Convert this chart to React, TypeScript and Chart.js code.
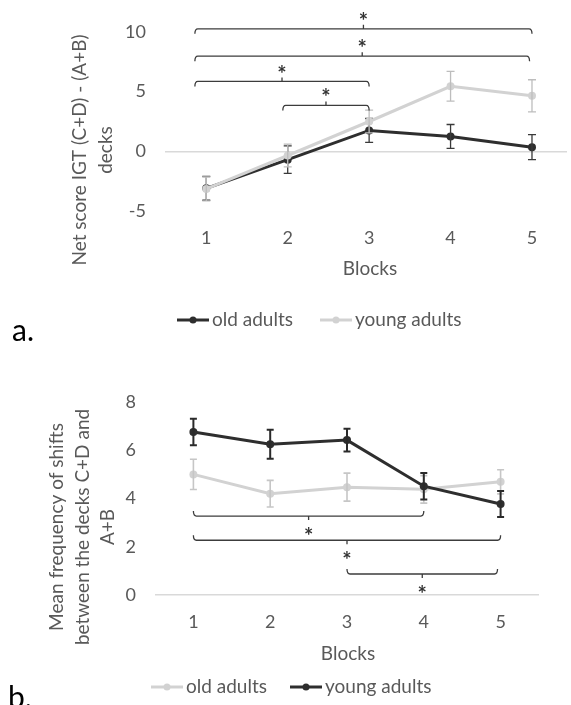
import React, { useEffect, useRef } from 'react';
import { Chart, registerables } from 'chart.js';

Chart.register(...registerables);

// ---------- data ----------
const blocks = [1, 2, 3, 4, 5];

// panel a: Net score IGT
const aOldAdults = [-3.1, -0.7, 1.75, 1.25, 0.35];
const aOldAdultsErr = [1.0, 1.15, 1.0, 1.0, 1.05];
const aYoungAdults = [-3.15, -0.35, 2.5, 5.45, 4.65];
const aYoungAdultsErr = [1.0, 0.95, 0.95, 1.25, 1.35];
const aYTicks = [-5, 0, 5, 10];
const aBracketFrom = [0.86, 0.86, 0.86, 1.94];
const aBracketTo = [5, 4.97, 3, 3];
const aBracketLevel = [10.27, 7.97, 5.86, 3.85];
const aBracketLabel = ['*', '*', '*', '*'];

// panel b: Mean frequency of shifts
const bOldAdults = [5.0, 4.2, 4.47, 4.38, 4.69];
const bOldAdultsErr = [0.63, 0.55, 0.58, 0.57, 0.5];
const bYoungAdults = [6.76, 6.25, 6.42, 4.51, 3.77];
const bYoungAdultsErr = [0.55, 0.6, 0.47, 0.55, 0.54];
const bYTicks = [0, 2, 4, 6, 8];
const bBracketFrom = [1, 1, 3];
const bBracketTo = [4, 5, 4.96];
const bBracketLevel = [3.27, 2.27, 0.87];
const bBracketLabel = ['*', '*', '*'];

const seriesNames = ['old adults', 'young adults'];

const DARK = '#2e2e2e';
const LIGHT = '#d2d2d2';
const TEXT = '#595959';
const FONT = 'Lato';
const STAR_SIZE = 22;

// ---------- layout ----------
type PanelCfg = {
  top: number;
  height: number;
  areaLeft: number;
  areaRight: number;
  areaTop: number;
  areaBottom: number;
  xMin: number;
  xMax: number;
  yMin: number;
  yMax: number;
  yTicks: number[];
  series: { label: string; values: number[]; errs: number[]; color: string; errColor: string; errWidth: number; cap: number }[];
  brackets: { from: number[]; to: number[]; level: number[]; label: string[] };
  bracketDir: number; // 1: hooks down, star above ; -1: hooks up, star below
  starOffset: number;
  yTitle: string[];
  yTitleX: number[];
  yTitleY: number;
  xTitle: string;
  xTitlePos: [number, number];
  legendY: number;
  legendX: number[];
  letter: string;
  letterPos: [number, number];
};

const panelA: PanelCfg = {
  top: 0,
  height: 350,
  areaLeft: 165,
  areaRight: 571,
  areaTop: 32,
  areaBottom: 211,
  xMin: 0.493,
  xMax: 5.43,
  yMin: -5,
  yMax: 10,
  yTicks: aYTicks,
  series: [
    { label: seriesNames[0], values: aOldAdults, errs: aOldAdultsErr, color: DARK, errColor: '#3a3a3a', errWidth: 1.3, cap: 4 },
    { label: seriesNames[1], values: aYoungAdults, errs: aYoungAdultsErr, color: LIGHT, errColor: '#bdbdbd', errWidth: 1.3, cap: 4 },
  ],
  brackets: { from: aBracketFrom, to: aBracketTo, level: aBracketLevel, label: aBracketLabel },
  bracketDir: 1,
  starOffset: 12,
  yTitle: ['Net score IGT (C+D) - (A+B)', 'decks'],
  yTitleX: [80, 106],
  yTitleY: 150,
  xTitle: 'Blocks',
  xTitlePos: [370, 269],
  legendY: 320,
  legendX: [177, 320],
  letter: 'a.',
  letterPos: [12, 341],
};

const panelB: PanelCfg = {
  top: 350,
  height: 355,
  areaLeft: 155,
  areaRight: 539,
  areaTop: 52,
  areaBottom: 245,
  xMin: 0.5,
  xMax: 5.5,
  yMin: 0,
  yMax: 8,
  yTicks: bYTicks,
  series: [
    { label: seriesNames[0], values: bOldAdults, errs: bOldAdultsErr, color: LIGHT, errColor: '#c6c6c6', errWidth: 1.6, cap: 3.5 },
    { label: seriesNames[1], values: bYoungAdults, errs: bYoungAdultsErr, color: DARK, errColor: '#2a2a2a', errWidth: 2, cap: 3.5 },
  ],
  brackets: { from: bBracketFrom, to: bBracketTo, level: bBracketLevel, label: bBracketLabel },
  bracketDir: -1,
  starOffset: 16,
  yTitle: ['Mean frequency of shifts', 'between the decks C+D and', 'A+B'],
  yTitleX: [57, 83, 108],
  yTitleY: 177,
  xTitle: 'Blocks',
  xTitlePos: [348, 304],
  legendY: 337,
  legendX: [151, 290],
  letter: 'b.',
  letterPos: [8, 358],
};

function makeOverlay(cfg: PanelCfg) {
  return {
    id: 'overlay',
    afterDatasetDraw(chart: any, args: any) {
      const ds: any = chart.data.datasets[args.index];
      const s = cfg.series[args.index];
      const ctx = chart.ctx;
      const xs = chart.scales.x;
      const ys = chart.scales.y;
      ctx.save();
      ctx.strokeStyle = s.errColor;
      ctx.lineWidth = s.errWidth;
      ds.data.forEach((p: any, i: number) => {
        const e = s.errs[i];
        const x = xs.getPixelForValue(p.x);
        const y1 = ys.getPixelForValue(p.y + e);
        const y2 = ys.getPixelForValue(p.y - e);
        ctx.beginPath();
        ctx.moveTo(x, y1);
        ctx.lineTo(x, y2);
        ctx.moveTo(x - s.cap, y1);
        ctx.lineTo(x + s.cap, y1);
        ctx.moveTo(x - s.cap, y2);
        ctx.lineTo(x + s.cap, y2);
        ctx.stroke();
      });
      ctx.restore();
    },
    afterDraw(chart: any) {
      const ctx = chart.ctx;
      const xs = chart.scales.x;
      const ys = chart.scales.y;
      const d = cfg.bracketDir;
      // brackets
      ctx.save();
      ctx.strokeStyle = '#3c3c3c';
      ctx.lineWidth = 1.3;
      ctx.fillStyle = '#333';
      ctx.font = `bold ${STAR_SIZE}px ${FONT}`;
      ctx.textAlign = 'center';
      ctx.textBaseline = 'alphabetic';
      cfg.brackets.level.forEach((lv, i) => {
        const x1 = xs.getPixelForValue(cfg.brackets.from[i]);
        const x2 = xs.getPixelForValue(cfg.brackets.to[i]);
        const y = ys.getPixelForValue(lv);
        const xm = (x1 + x2) / 2;
        ctx.beginPath();
        ctx.moveTo(x1, y + d * 5);
        ctx.quadraticCurveTo(x1, y, x1 + 3, y);
        ctx.lineTo(x2 - 3, y);
        ctx.quadraticCurveTo(x2, y, x2, y + d * 5);
        ctx.moveTo(xm, y);
        ctx.lineTo(xm, y - d * 4);
        ctx.stroke();
        const cy = y - d * cfg.starOffset;
        ctx.fillText(cfg.brackets.label[i], xm, cy + STAR_SIZE * 0.55);
      });
      ctx.restore();

      // y-axis title
      ctx.save();
      ctx.fillStyle = TEXT;
      ctx.font = `19px ${FONT}`;
      ctx.textAlign = 'center';
      ctx.textBaseline = 'middle';
      cfg.yTitle.forEach((line, i) => {
        ctx.save();
        ctx.translate(cfg.yTitleX[i], cfg.yTitleY);
        ctx.rotate(-Math.PI / 2);
        ctx.fillText(line, 0, 0);
        ctx.restore();
      });
      // x-axis title
      ctx.fillText(cfg.xTitle, cfg.xTitlePos[0], cfg.xTitlePos[1]);

      // legend
      chart.data.datasets.forEach((ds: any, i: number) => {
        const x = cfg.legendX[i];
        const y = cfg.legendY;
        ctx.strokeStyle = ds.borderColor;
        ctx.lineWidth = 3;
        ctx.beginPath();
        ctx.moveTo(x, y);
        ctx.lineTo(x + 32, y);
        ctx.stroke();
        ctx.fillStyle = ds.borderColor;
        ctx.beginPath();
        ctx.arc(x + 16, y, 3.5, 0, Math.PI * 2);
        ctx.fill();
        ctx.fillStyle = TEXT;
        ctx.textAlign = 'left';
        ctx.fillText(ds.label, x + 35, y);
      });

      // panel letter
      ctx.fillStyle = '#000';
      ctx.font = `30px ${FONT}`;
      ctx.textAlign = 'left';
      ctx.textBaseline = 'alphabetic';
      ctx.fillText(cfg.letter, cfg.letterPos[0], cfg.letterPos[1]);
      ctx.restore();
    },
  };
}

function Panel({ cfg }: { cfg: PanelCfg }) {
  const ref = useRef<HTMLCanvasElement>(null);
  useEffect(() => {
    const chart = new Chart(ref.current as HTMLCanvasElement, {
      type: 'line',
      data: {
        datasets: cfg.series.map((s, i) => ({
          label: s.label,
          data: s.values.map((v, j) => ({ x: blocks[j], y: v })),
          borderColor: s.color,
          backgroundColor: s.color,
          borderWidth: 3,
          pointRadius: 4,
          pointBorderWidth: 0,
          pointBackgroundColor: s.color,
          tension: 0,
          order: cfg.series.length - i,
        })),
      },
      options: {
        animation: false,
        responsive: false,
        devicePixelRatio: 1,
        layout: {
          padding: { top: cfg.areaTop, left: 0, right: 571 - cfg.areaRight, bottom: 0 },
        },
        plugins: { legend: { display: false }, tooltip: { enabled: false } },
        scales: {
          x: {
            type: 'linear',
            min: cfg.xMin,
            max: cfg.xMax,
            afterBuildTicks: (s: any) => {
              s.ticks = blocks.map((v) => ({ value: v }));
            },
            afterFit: (s: any) => {
              s.height = cfg.height - cfg.areaBottom;
            },
            grid: { display: false, drawTicks: false },
            border: { display: false },
            ticks: {
              color: TEXT,
              font: { family: FONT, size: 18 },
              padding: 16,
              autoSkip: false,
              maxRotation: 0,
              callback: (v: any) => String(v),
            },
          },
          y: {
            type: 'linear',
            min: cfg.yMin,
            max: cfg.yMax,
            afterBuildTicks: (s: any) => {
              s.ticks = cfg.yTicks.map((v) => ({ value: v }));
            },
            afterFit: (s: any) => {
              s.width = cfg.areaLeft;
            },
            grid: {
              drawTicks: false,
              lineWidth: 1.5,
              color: (c: any) => (c.tick && c.tick.value === 0 ? '#d9d9d9' : 'rgba(0,0,0,0)'),
            },
            border: { display: false },
            ticks: {
              color: TEXT,
              font: { family: FONT, size: 18 },
              padding: 19,
              callback: (v: any) => String(v),
            },
          },
        },
      } as any,
      plugins: [makeOverlay(cfg)],
    });
    return () => chart.destroy();
  }, [cfg]);
  return (
    <canvas
      ref={ref}
      width={571}
      height={cfg.height}
      style={{ position: 'absolute', left: 0, top: cfg.top, width: 571, height: cfg.height, display: 'block' }}
    />
  );
}

export default function App() {
  return (
    <div style={{ position: 'absolute', left: 0, top: 0, width: 571, height: 705, background: '#fff', overflow: 'hidden' }}>
      <Panel cfg={panelA} />
      <Panel cfg={panelB} />
    </div>
  );
}
